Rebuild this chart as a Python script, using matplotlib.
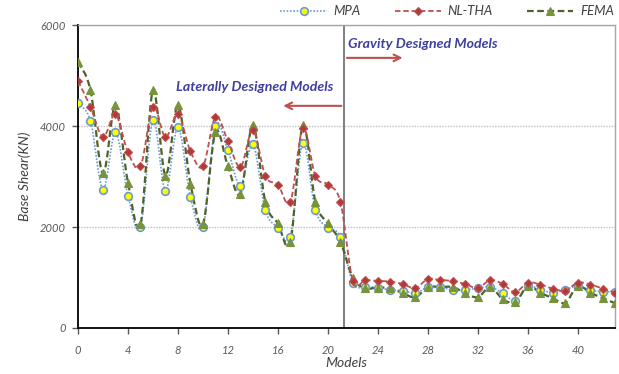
import matplotlib
matplotlib.use("Agg")
import matplotlib.pyplot as plt
from matplotlib.lines import Line2D
from matplotlib.path import Path
from matplotlib.patches import PathPatch

plt.rcParams['font.family'] = ['Lato', 'DejaVu Sans']

# Base shear per model (KN)
models = list(range(44))
mpa = [4450, 4100, 2740, 3880, 2620, 2000, 4110, 2720, 3980, 2600, 2000,
       4000, 3520, 2820, 3640, 2330, 1990, 1810, 3660, 2330, 1990, 1810,
       890, 820, 800, 750, 740, 690, 810, 810, 750, 750, 790, 810, 690, 540,
       830, 760, 700, 760, 830, 750, 720, 720]
nl_tha = [4890, 4380, 3780, 4230, 3480, 3200, 4380, 3780, 4230, 3500, 3200,
          4180, 3700, 3190, 3920, 3010, 2840, 2500, 3960, 3010, 2840, 2500,
          930, 950, 930, 920, 870, 790, 970, 950, 930, 870, 790, 950, 870, 710,
          900, 860, 780, 740, 900, 860, 780, 700]
fema = [5270, 4710, 3060, 4410, 2880, 2050, 4710, 3020, 4410, 2860, 2060,
        3880, 3200, 2660, 4020, 2490, 2070, 1710, 4020, 2500, 2070, 1710,
        990, 790, 800, 790, 690, 610, 810, 810, 810, 690, 610, 810, 570, 510,
        830, 700, 590, 500, 830, 700, 590, 490]
x_ticks = [0, 4, 8, 12, 16, 20, 24, 28, 32, 36, 40]
y_ticks = [0, 2000, 4000, 6000]
divider = 21.3


def smooth_path(xs, ys):
    """Cubic Bezier path through the points (Catmull-Rom style tangents)."""
    n = len(xs)
    verts = [(xs[0], ys[0])]
    codes = [Path.MOVETO]
    for i in range(n - 1):
        i0 = max(i - 1, 0)
        i3 = min(i + 2, n - 1)
        c1 = (xs[i] + (xs[i + 1] - xs[i0]) / 6.0,
              ys[i] + (ys[i + 1] - ys[i0]) / 6.0)
        c2 = (xs[i + 1] - (xs[i3] - xs[i]) / 6.0,
              ys[i + 1] - (ys[i3] - ys[i]) / 6.0)
        verts += [c1, c2, (xs[i + 1], ys[i + 1])]
        codes += [Path.CURVE4] * 3
    return Path(verts, codes)


fig = plt.figure(figsize=(6.19, 3.74), dpi=100)
ax = fig.add_axes([0.126, 0.123, 0.868, 0.810])

label_col = '#595959'

styles = [
    ('MPA', mpa, dict(linestyle=(0, (1, 1)), color='#6a9bd1', lw=1.2),
     dict(marker='o', ms=5.5, mfc='#ffff00', mec='#6a9bd1', mew=1.2), 3),
    ('NL-THA', nl_tha, dict(linestyle=(0, (3, 1.6)), color='#c0504d', lw=1.3),
     dict(marker='D', ms=4, mfc='#b03a3a', mec='#c0504d', mew=0.8), 4),
    ('FEMA', fema, dict(linestyle=(0, (3, 1.6)), color='#4f6228', lw=1.6),
     dict(marker='^', ms=5.5, mfc='#77933c', mec='#77933c', mew=0.8), 3),
]

handles = []
for name, vals, ls, mk, z in styles:
    patch = PathPatch(smooth_path(models, vals), fill=False,
                      edgecolor=ls['color'], lw=ls['lw'],
                      linestyle=ls['linestyle'], zorder=z)
    ax.add_patch(patch)
    ax.plot(models, vals, linestyle='none', zorder=z + 0.5, **mk)
    handles.append(Line2D([], [], label=name, **ls, **mk))

ax.axvline(divider, color='#7f7f7f', lw=1.4, zorder=2)

ax.set_xlim(0, 43)
ax.set_ylim(0, 6000)
ax.set_xticks(x_ticks)
ax.set_yticks(y_ticks)
ax.yaxis.grid(True, linestyle=(0, (1, 1)), color='#bfbfbf', lw=1.0)
ax.set_axisbelow(True)

for s in ('top', 'right'):
    ax.spines[s].set_linestyle((0, (1, 1)))
    ax.spines[s].set_color('#a6a6a6')
    ax.spines[s].set_linewidth(1.0)
for s in ('left', 'bottom'):
    ax.spines[s].set_color('#000000')
    ax.spines[s].set_linewidth(1.3)

ax.tick_params(axis='x', direction='out', length=4, width=1, pad=8,
               colors=label_col, labelsize=8)
ax.tick_params(axis='y', direction='out', length=4, width=1, pad=5,
               colors=label_col, labelsize=8)
for lab in ax.get_xticklabels() + ax.get_yticklabels():
    lab.set_fontstyle('italic')

ax.set_xlabel('Models', fontsize=10, fontstyle='italic', color='#404040',
              labelpad=1)
ax.set_ylabel('Base Shear(KN)', fontsize=10, fontstyle='italic',
              color='#404040', labelpad=6)

# Region annotations
ax.text(20.4, 4780, 'Laterally Designed Models', fontsize=10.2,
        fontweight='bold', fontstyle='italic', color='#3f3f9f',
        ha='right', va='center')
ax.annotate('', xy=(16.2, 4400), xytext=(21.3, 4400),
            arrowprops=dict(arrowstyle='->', color='#c0504d', lw=1.5,
                            mutation_scale=12))
ax.text(21.6, 5620, 'Gravity Designed Models', fontsize=10.2,
        fontweight='bold', fontstyle='italic', color='#3f3f9f',
        ha='left', va='center')
ax.annotate('', xy=(26.2, 5350), xytext=(21.3, 5350),
            arrowprops=dict(arrowstyle='->', color='#c0504d', lw=1.5,
                            mutation_scale=12))

leg = ax.legend(handles=handles, loc='lower right',
                bbox_to_anchor=(1.012, 1.0), ncol=3, frameon=False,
                fontsize=9.5, handlelength=3.5, columnspacing=2.6,
                borderaxespad=0.2, handletextpad=0.5)
for t in leg.get_texts():
    t.set_fontstyle('italic')
    t.set_color('#404040')

fig.savefig('out.png', dpi=100)
